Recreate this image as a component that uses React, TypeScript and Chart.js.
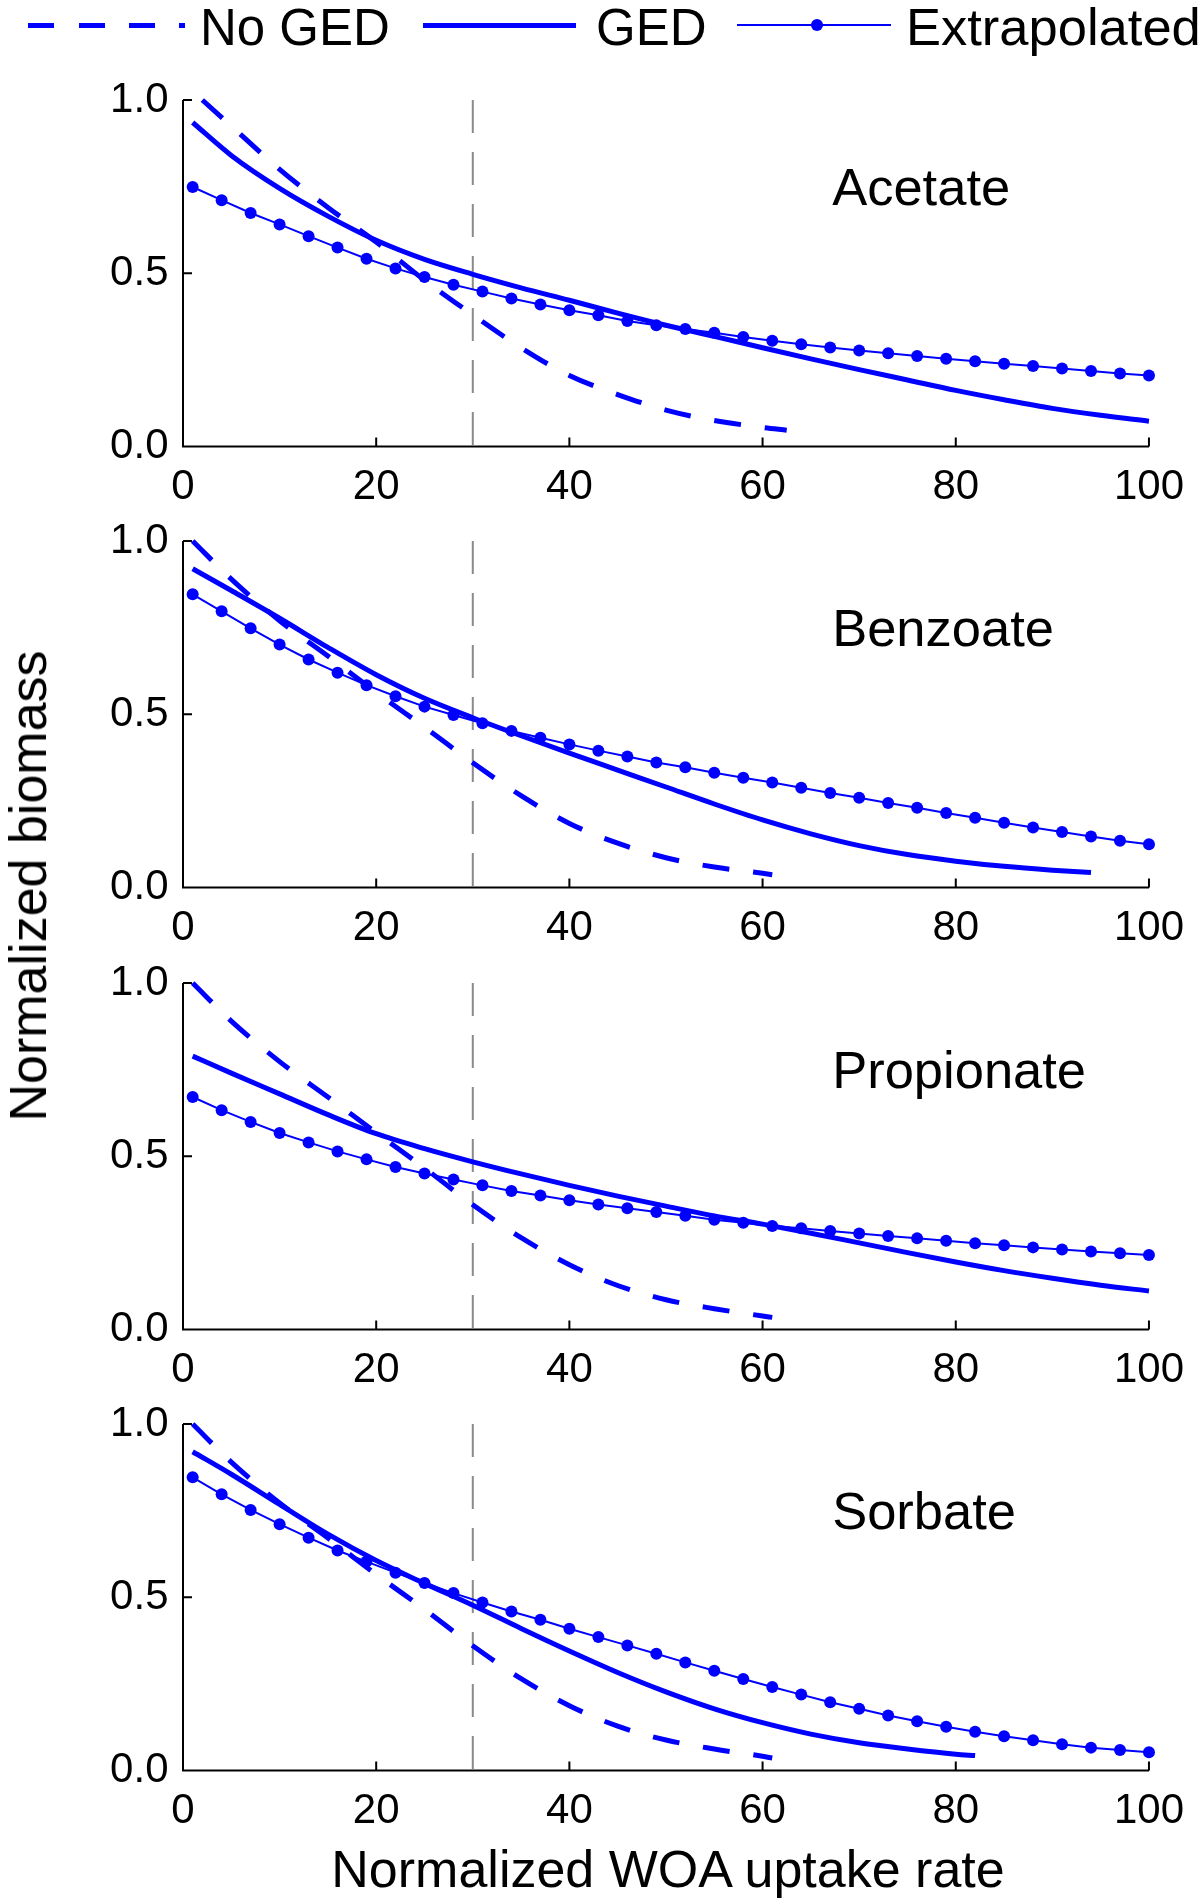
import React, { useEffect, useRef } from "react";
import { Chart, registerables } from "chart.js";

Chart.register(...registerables);

const BLUE = "#0000ff";
const FONT = "'Liberation Sans', Arial, Helvetica, sans-serif";

// ---------- data ----------
const PANEL_NAMES = ["Acetate", "Benzoate", "Propionate", "Sorbate"];
const X_TICKS = [0, 20, 40, 60, 80, 100];
const Y_TICKS = [0, 0.5, 1.0];
const THRESHOLD_X = 30;
const LEGEND_LABELS = ["No GED", "GED", "Extrapolated"];
const X_TITLE = "Normalized WOA uptake rate";
const Y_TITLE = "Normalized biomass";

const EXTRAP_X = [1, 4, 7, 10, 13, 16, 19, 22, 25, 28, 31, 34, 37, 40, 43, 46, 49, 52, 55, 58, 61, 64, 67, 70, 73, 76, 79, 82, 85, 88, 91, 94, 97, 100];

// Acetate
const ACETATE_EXTRAP = [0.749, 0.711, 0.674, 0.641, 0.607, 0.574, 0.542, 0.514, 0.489, 0.467, 0.447, 0.427, 0.410, 0.393, 0.379, 0.362, 0.350, 0.339, 0.328, 0.316, 0.305, 0.295, 0.286, 0.277, 0.269, 0.261, 0.253, 0.246, 0.239, 0.232, 0.225, 0.218, 0.211, 0.205];
const ACETATE_GED_X = [1, 5, 10, 15, 20, 25, 30, 35, 40, 45, 50, 55, 60, 65, 70, 75, 80, 85, 90, 95, 100];
const ACETATE_GED = [0.935, 0.84, 0.745, 0.665, 0.595, 0.540, 0.497, 0.458, 0.422, 0.385, 0.350, 0.318, 0.285, 0.253, 0.222, 0.192, 0.162, 0.135, 0.110, 0.090, 0.073];
const ACETATE_NOGED_X = [2, 5, 10, 15, 20, 25, 30, 35, 40, 45, 50, 55, 60, 62.5];
const ACETATE_NOGED = [1.0, 0.925, 0.80, 0.69, 0.59, 0.48, 0.38, 0.285, 0.205, 0.15, 0.105, 0.075, 0.055, 0.047];

// Benzoate
const BENZOATE_EXTRAP = [0.846, 0.797, 0.748, 0.701, 0.658, 0.620, 0.584, 0.552, 0.522, 0.498, 0.474, 0.452, 0.432, 0.413, 0.395, 0.378, 0.361, 0.347, 0.331, 0.317, 0.303, 0.288, 0.273, 0.259, 0.244, 0.230, 0.215, 0.201, 0.187, 0.173, 0.160, 0.147, 0.135, 0.125];
const BENZOATE_GED_X = [1, 5, 10, 15, 20, 25, 30, 35, 40, 45, 50, 55, 60, 65, 70, 75, 80, 85, 90, 94];
const BENZOATE_GED = [0.920, 0.857, 0.777, 0.693, 0.614, 0.546, 0.490, 0.438, 0.388, 0.339, 0.290, 0.241, 0.195, 0.155, 0.121, 0.095, 0.076, 0.061, 0.050, 0.043];
const BENZOATE_NOGED_X = [1, 5, 10, 15, 20, 25, 30, 35, 40, 45, 50, 55, 60, 61];
const BENZOATE_NOGED = [1.0, 0.89, 0.77, 0.668, 0.563, 0.463, 0.36, 0.265, 0.185, 0.128, 0.086, 0.059, 0.041, 0.037];

// Propionate
const PROPIONATE_EXTRAP = [0.671, 0.633, 0.599, 0.567, 0.540, 0.514, 0.491, 0.469, 0.450, 0.433, 0.416, 0.400, 0.387, 0.373, 0.361, 0.350, 0.339, 0.328, 0.317, 0.308, 0.299, 0.292, 0.284, 0.277, 0.270, 0.263, 0.256, 0.249, 0.243, 0.237, 0.231, 0.225, 0.220, 0.215];
const PROPIONATE_GED_X = [1, 5, 10, 15, 20, 25, 30, 35, 40, 45, 50, 55, 60, 65, 70, 75, 80, 85, 90, 95, 100];
const PROPIONATE_GED = [0.789, 0.740, 0.680, 0.620, 0.565, 0.522, 0.484, 0.449, 0.416, 0.385, 0.356, 0.328, 0.304, 0.278, 0.250, 0.222, 0.195, 0.170, 0.148, 0.128, 0.111];
const PROPIONATE_NOGED_X = [1, 5, 10, 15, 20, 25, 30, 35, 40, 45, 50, 55, 60, 61];
const PROPIONATE_NOGED = [1.0, 0.89, 0.773, 0.671, 0.568, 0.466, 0.36, 0.265, 0.187, 0.127, 0.086, 0.060, 0.039, 0.035];

// Sorbate
const SORBATE_EXTRAP = [0.846, 0.797, 0.752, 0.711, 0.672, 0.635, 0.603, 0.571, 0.541, 0.512, 0.485, 0.459, 0.435, 0.409, 0.385, 0.361, 0.337, 0.312, 0.288, 0.264, 0.241, 0.219, 0.197, 0.178, 0.159, 0.142, 0.126, 0.112, 0.099, 0.087, 0.076, 0.066, 0.059, 0.053];
const SORBATE_GED_X = [1, 5, 10, 15, 20, 25, 30, 35, 40, 45, 50, 55, 60, 65, 70, 75, 80, 82];
const SORBATE_GED = [0.920, 0.855, 0.768, 0.682, 0.606, 0.540, 0.477, 0.410, 0.345, 0.283, 0.227, 0.178, 0.138, 0.105, 0.080, 0.062, 0.047, 0.043];
const SORBATE_NOGED_X = [1, 5, 10, 15, 20, 25, 30, 35, 40, 45, 50, 55, 60, 61];
const SORBATE_NOGED = [1.0, 0.89, 0.772, 0.671, 0.566, 0.465, 0.36, 0.265, 0.187, 0.128, 0.088, 0.062, 0.041, 0.036];

const PANELS = [
  { name: PANEL_NAMES[0], extrap: ACETATE_EXTRAP, gedX: ACETATE_GED_X, ged: ACETATE_GED, noX: ACETATE_NOGED_X, no: ACETATE_NOGED },
  { name: PANEL_NAMES[1], extrap: BENZOATE_EXTRAP, gedX: BENZOATE_GED_X, ged: BENZOATE_GED, noX: BENZOATE_NOGED_X, no: BENZOATE_NOGED },
  { name: PANEL_NAMES[2], extrap: PROPIONATE_EXTRAP, gedX: PROPIONATE_GED_X, ged: PROPIONATE_GED, noX: PROPIONATE_NOGED_X, no: PROPIONATE_NOGED },
  { name: PANEL_NAMES[3], extrap: SORBATE_EXTRAP, gedX: SORBATE_GED_X, ged: SORBATE_GED, noX: SORBATE_NOGED_X, no: SORBATE_NOGED },
];

// ---------- layout ----------
const PANEL_TOPS = [100, 541, 983, 1424];
const PLOT_H = 346.5;
const CANVAS_H = 500;
const CANVAS_PAD_TOP = 50;
const LABEL_X = 67.2;
const LABEL_Y = 0.697;

const pts = (xs: number[], ys: number[]) => xs.map((x, i) => ({ x, y: ys[i] }));

function makeDecor(name: string) {
  return {
    id: "panelDecor",
    beforeDatasetsDraw(chart: any) {
      const { ctx, scales } = chart;
      const x = scales.x, y = scales.y;
      const px = x.getPixelForValue(THRESHOLD_X);
      ctx.save();
      ctx.strokeStyle = "#8a8a8a";
      ctx.lineWidth = 2;
      ctx.setLineDash([33, 19]);
      ctx.beginPath();
      ctx.moveTo(px, y.getPixelForValue(1));
      ctx.lineTo(px, y.getPixelForValue(0));
      ctx.stroke();
      ctx.restore();
    },
    afterDraw(chart: any) {
      const { ctx, scales } = chart;
      const x = scales.x, y = scales.y;
      const x0 = x.getPixelForValue(0), x1 = x.getPixelForValue(100);
      const y0 = y.getPixelForValue(0), y1 = y.getPixelForValue(1);
      ctx.save();
      ctx.strokeStyle = "#000";
      ctx.lineWidth = 2;
      ctx.setLineDash([]);
      ctx.beginPath();
      ctx.moveTo(x0, y1);
      ctx.lineTo(x0, y0);
      ctx.lineTo(x1, y0);
      const TL = 9;
      X_TICKS.forEach((v) => {
        const p = x.getPixelForValue(v);
        ctx.moveTo(p, y0);
        ctx.lineTo(p, y0 - TL);
      });
      Y_TICKS.forEach((v) => {
        const p = y.getPixelForValue(v);
        ctx.moveTo(x0, p);
        ctx.lineTo(x0 + TL, p);
      });
      ctx.stroke();
      ctx.fillStyle = "#000";
      ctx.font = `52.5px ${FONT}`;
      ctx.textAlign = "left";
      ctx.textBaseline = "alphabetic";
      ctx.fillText(name, x.getPixelForValue(LABEL_X), y.getPixelForValue(LABEL_Y));
      ctx.restore();
    },
  };
}

function Panel({ index }: { index: number }) {
  const ref = useRef<HTMLCanvasElement>(null);
  useEffect(() => {
    const d = PANELS[index];
    const tickFont = { family: FONT, size: 42 };
    const chart = new Chart(ref.current as HTMLCanvasElement, {
      type: "line",
      data: {
        datasets: [
          {
            label: LEGEND_LABELS[0],
            data: pts(d.noX, d.no),
            borderColor: BLUE,
            borderWidth: 5,
            borderDash: [27, 24],
            borderCapStyle: "butt",
            pointRadius: 0,
            cubicInterpolationMode: "monotone",
            fill: false,
            clip: false,
          },
          {
            label: LEGEND_LABELS[1],
            data: pts(d.gedX, d.ged),
            borderColor: BLUE,
            borderWidth: 5,
            pointRadius: 0,
            cubicInterpolationMode: "monotone",
            fill: false,
            clip: false,
          },
          {
            label: LEGEND_LABELS[2],
            data: pts(EXTRAP_X, d.extrap),
            borderColor: BLUE,
            borderWidth: 2,
            pointRadius: 6,
            pointBackgroundColor: BLUE,
            pointBorderColor: BLUE,
            pointBorderWidth: 0,
            tension: 0,
            fill: false,
            clip: false,
          },
        ] as any,
      },
      options: {
        animation: false,
        responsive: false,
        maintainAspectRatio: false,
        devicePixelRatio: 1,
        events: [],
        layout: { padding: { top: CANVAS_PAD_TOP, right: 48, bottom: 0, left: 0 } },
        plugins: { legend: { display: false }, tooltip: { enabled: false }, title: { display: false } },
        scales: {
          x: {
            type: "linear",
            min: 0,
            max: 100,
            grid: { display: false, drawTicks: false },
            border: { display: false },
            ticks: {
              stepSize: 20,
              autoSkip: false,
              maxRotation: 0,
              color: "#000",
              font: tickFont,
              padding: 16,
              callback: (v: any) => String(v),
            },
            afterFit: (s: any) => {
              s.height = CANVAS_H - CANVAS_PAD_TOP - PLOT_H;
            },
          },
          y: {
            type: "linear",
            min: 0,
            max: 1,
            grid: { display: false, drawTicks: false },
            border: { display: false },
            ticks: {
              stepSize: 0.5,
              autoSkip: false,
              color: "#000",
              font: tickFont,
              padding: 14.5,
              callback: (v: any) => Number(v).toFixed(1),
            },
            afterFit: (s: any) => {
              s.width = 183;
            },
          },
        },
      } as any,
      plugins: [makeDecor(d.name)],
    });
    return () => chart.destroy();
  }, [index]);
  return (
    <canvas
      ref={ref}
      width={1200}
      height={CANVAS_H}
      style={{ position: "absolute", left: 0, top: PANEL_TOPS[index] - CANVAS_PAD_TOP, width: 1200, height: CANVAS_H }}
    />
  );
}

const textStyle: React.CSSProperties = {
  position: "absolute",
  fontFamily: FONT,
  fontSize: 51,
  lineHeight: "51px",
  color: "#000",
  whiteSpace: "nowrap",
};

export default function App() {
  return (
    <div style={{ position: "absolute", left: 0, top: 0, width: 1200, height: 1899, background: "#fff", overflow: "hidden" }}>
      {[0, 1, 2, 3].map((i) => (
        <Panel key={i} index={i} />
      ))}
      {/* legend */}
      <div
        style={{
          position: "absolute",
          left: 28,
          top: 22.5,
          width: 157,
          height: 5,
          background: `repeating-linear-gradient(90deg, ${BLUE} 0px, ${BLUE} 26px, transparent 26px, transparent 50.5px)`,
        }}
      />
      <div style={{ ...textStyle, left: 200, top: 1.8 }}>{LEGEND_LABELS[0]}</div>
      <div style={{ position: "absolute", left: 423, top: 22.5, width: 153, height: 5, background: BLUE }} />
      <div style={{ ...textStyle, left: 596, top: 1.8 }}>{LEGEND_LABELS[1]}</div>
      <div style={{ position: "absolute", left: 737, top: 24, width: 154, height: 2, background: BLUE }} />
      <div style={{ position: "absolute", left: 816.5 - 6, top: 25 - 6, width: 12, height: 12, borderRadius: "50%", background: BLUE }} />
      <div style={{ ...textStyle, fontSize: 52.5, lineHeight: "52.5px", left: 906, top: 0.6 }}>{LEGEND_LABELS[2]}</div>
      {/* axis titles */}
      <div
        style={{
          ...textStyle,
          fontSize: 52,
          lineHeight: "52px",
          left: 28.3,
          top: 886,
          transform: "translate(-50%, -50%) rotate(-90deg)",
        }}
      >
        {Y_TITLE}
      </div>
      <div
        style={{
          ...textStyle,
          fontSize: 52,
          lineHeight: "52px",
          left: 668,
          top: 1843,
          transform: "translateX(-50%)",
        }}
      >
        {X_TITLE}
      </div>
    </div>
  );
}
